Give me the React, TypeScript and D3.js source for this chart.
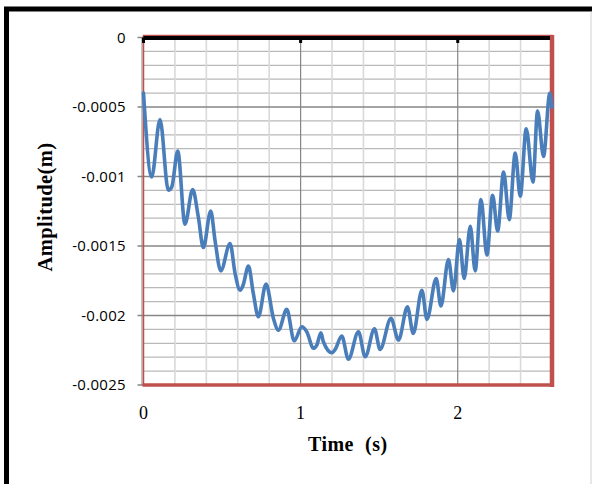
import React from "react";
import * as d3 from "d3";

const TIME = [0.0, 0.052, 0.105, 0.158, 0.18, 0.218, 0.264, 0.313, 0.349, 0.381, 0.428, 0.455, 0.492, 0.551, 0.583, 0.615, 0.634, 0.668, 0.699, 0.731, 0.78, 0.827, 0.859, 0.912, 0.959, 1.008, 1.039, 1.082, 1.103, 1.129, 1.145, 1.199, 1.22, 1.262, 1.304, 1.368, 1.411, 1.47, 1.506, 1.575, 1.623, 1.68, 1.717, 1.772, 1.804, 1.863, 1.893, 1.941, 1.973, 2.011, 2.041, 2.08, 2.111, 2.148, 2.186, 2.222, 2.254, 2.292, 2.328, 2.366, 2.398, 2.436, 2.479, 2.508, 2.546, 2.586, 2.6];

const AMPLITUDE = [-0.0004, -0.001004, -0.000591, -0.001099, -0.001075, -0.000817, -0.001343, -0.001094, -0.001291, -0.001511, -0.001248, -0.001458, -0.001679, -0.001482, -0.001698, -0.001818, -0.001782, -0.001645, -0.001841, -0.002009, -0.001774, -0.002021, -0.002105, -0.001956, -0.002182, -0.002081, -0.002117, -0.002236, -0.002213, -0.002124, -0.002189, -0.002268, -0.002244, -0.002148, -0.002315, -0.002117, -0.002297, -0.002096, -0.002244, -0.002021, -0.002177, -0.001938, -0.002129, -0.001818, -0.002028, -0.001734, -0.001932, -0.001597, -0.001823, -0.001453, -0.001734, -0.001358, -0.001679, -0.001166, -0.001566, -0.001135, -0.001392, -0.000968, -0.00131, -0.000831, -0.001142, -0.000656, -0.00104, -0.000529, -0.000855, -0.000402, -0.000501];

const Y_TICKS = [0, -0.0005, -0.001, -0.0015, -0.002, -0.0025];
const Y_TICK_LABELS = ["0", "-0.0005", "-0.001", "-0.0015", "-0.002", "-0.0025"];
const X_TICKS = [0, 1, 2];
const X_TICK_LABELS = ["0", "1", "2"];
const X_MINOR_STEP = 0.2;
const Y_MINOR_STEP = 0.0001;
const X_MAX = 2.6;
const Y_MIN = -0.0025;

const X_TITLE = "Time  (s)";
const Y_TITLE = "Amplitude(m)";

export default function App() {
  const W = 592;
  const H = 484;
  const left = 143.5;
  const right = 552;
  const top = 37.5;
  const bottom = 385;

  const x = d3.scaleLinear().domain([0, X_MAX]).range([left, right]);
  const y = d3.scaleLinear().domain([Y_MIN, 0]).range([bottom, top]);

  const xMinor = d3.range(0, X_MAX + 1e-9, X_MINOR_STEP).map((v) => +v.toFixed(4));
  const yMinor = d3.range(0, Y_MIN - 1e-12, -Y_MINOR_STEP).map((v) => +v.toFixed(6));

  const pts = TIME.map((t, i) => [t, AMPLITUDE[i]] as [number, number]);
  const line = d3
    .line<[number, number]>()
    .x((d) => x(d[0]))
    .y((d) => y(d[1]))
    .curve(d3.curveMonotoneX);

  const isMajorX = (v: number) => Math.abs(v - Math.round(v)) < 1e-6;
  const isMajorY = (v: number) => Math.abs(v / 0.0005 - Math.round(v / 0.0005)) < 1e-6;

  return (
    <svg
      width={W}
      height={H}
      style={{ position: "absolute", left: 0, top: 0, background: "#fff" }}
    >
      <rect x={0} y={0} width={W} height={H} fill="#fff" />
      {/* outer frame */}
      <rect x={6.5} y={9} width={W + 20} height={H + 20} fill="none" stroke="#000" strokeWidth={5} />
      <line x1={591} x2={591} y1={11.5} y2={H} stroke="#d0d0d0" strokeWidth={1} />

      {/* minor horizontal gridlines */}
      {yMinor.filter((v) => !isMajorY(v)).map((v, i) => (
        <line key={"hy" + i} x1={left} x2={right} y1={y(v)} y2={y(v)} stroke="#b9b9b9" strokeWidth={1.3} />
      ))}
      {/* minor vertical gridlines */}
      {xMinor.filter((v) => !isMajorX(v)).map((v, i) => (
        <line key={"vx" + i} x1={x(v)} x2={x(v)} y1={top} y2={bottom} stroke="#d9d9d9" strokeWidth={1.6} />
      ))}
      {/* major horizontal gridlines */}
      {Y_TICKS.map((v, i) => (
        <line key={"my" + i} x1={left} x2={right} y1={y(v)} y2={y(v)} stroke="#868686" strokeWidth={1.5} />
      ))}
      {/* major vertical gridlines */}
      {X_TICKS.filter((v) => v > 0).map((v, i) => (
        <line key={"mx" + i} x1={x(v)} x2={x(v)} y1={top} y2={bottom} stroke="#868686" strokeWidth={1.2} />
      ))}

      {/* y axis line and ticks */}
      <line x1={left - 1.5} x2={left - 1.5} y1={top} y2={bottom} stroke="#868686" strokeWidth={1} />
      {Y_TICKS.map((v, i) => (
        <line key={"yt" + i} x1={left - 6} x2={left} y1={y(v)} y2={y(v)} stroke="#868686" strokeWidth={1.5} />
      ))}

      {/* plot area border */}
      <rect x={left} y={top - 2} width={right - left} height={bottom - top + 2} fill="none" stroke="#c0504d" strokeWidth={1.5} />
      <line x1={right} x2={right} y1={top - 2.5} y2={bottom + 2} stroke="#c0504d" strokeWidth={4.5} />
      <line x1={left - 1} x2={right + 2} y1={bottom} y2={bottom} stroke="#c0504d" strokeWidth={3.5} />

      {/* x axis line at 0 (top) with ticks */}
      <line x1={left} x2={right - 2} y1={top + 0.5} y2={top + 0.5} stroke="#000" strokeWidth={4} />
      {X_TICKS.map((v, i) => (
        <rect key={"xt" + i} x={x(v) - 1.5} y={top} width={3} height={5.5} fill="#000" />
      ))}

      {/* data line */}
      <path d={line(pts) || ""} fill="none" stroke="#4a7ebb" strokeWidth={3.6} strokeLinejoin="round" strokeLinecap="round" />

      {/* y tick labels */}
      {Y_TICKS.map((v, i) => (
        <text
          key={"yl" + i}
          x={126}
          y={y(v) + 5}
          textAnchor="end"
          fontFamily="'Open Sans', sans-serif"
          fontSize={15}
          letterSpacing={0.3}
          fill="#000"
        >
          {Y_TICK_LABELS[i]}
        </text>
      ))}
      {/* x tick labels */}
      {X_TICKS.map((v, i) => (
        <text
          key={"xl" + i}
          x={x(v)}
          y={418.5}
          textAnchor="middle"
          fontFamily="'Liberation Serif', serif"
          fontSize={18}
          fill="#000"
        >
          {X_TICK_LABELS[i]}
        </text>
      ))}

      {/* axis titles */}
      <text
        x={(left + right) / 2}
        y={451}
        textAnchor="middle"
        fontFamily="'Liberation Serif', serif"
        fontWeight="bold"
        fontSize={20}
        letterSpacing={0.5}
        xmlSpace="preserve"
        style={{ whiteSpace: "pre" }}
        fill="#000"
      >
        {X_TITLE}
      </text>
      <text
        transform={`translate(52, 207) rotate(-90)`}
        textAnchor="middle"
        fontFamily="'Liberation Serif', serif"
        fontWeight="bold"
        fontSize={20.5}
        letterSpacing={0.4}
        fill="#000"
      >
        {Y_TITLE}
      </text>
    </svg>
  );
}
